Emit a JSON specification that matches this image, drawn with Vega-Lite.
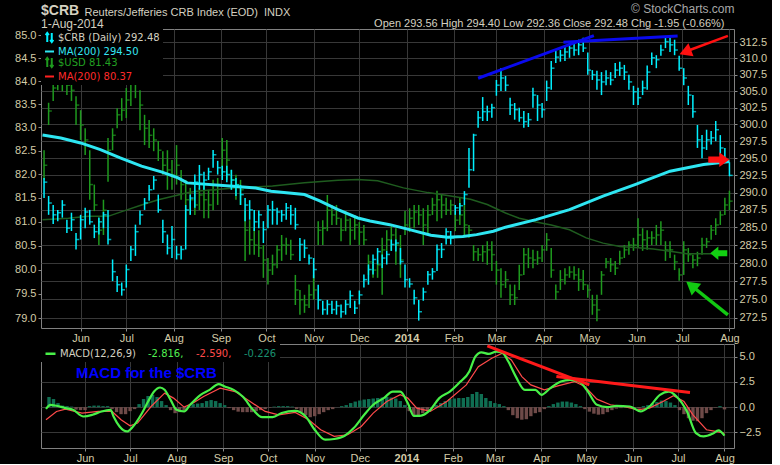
{
"$schema": "https://vega.github.io/schema/vega-lite/v6.json",
"background": "#000000",
"padding": {"left": 14, "top": 1, "right": 4, "bottom": 0},
"spacing": -5,
"config": {
  "view": {"stroke": "#808080", "strokeWidth": 1},
  "axis": {"labelFont": "Liberation Sans", "labelFontSize": 11, "labelColor": "#d4cca8", "tickColor": "#8a8a8a", "tickSize": 3, "labelPadding": 2, "domain": false, "gridColor": "#383838", "gridWidth": 1, "titleFont": "Liberation Sans", "labelFlush": false, "labelOverlap": false}
},
"datasets": {
  "bars": [
{"d":"2013-05-08","ch":292.1,"cl":289.2,"cc":291.5,"uh":82.51,"ul":81.88,"uc":82.19,"hg":1.0},
{"d":"2013-05-11","ch":289.5,"cl":286.8,"cc":288.5,"uh":83.53,"ul":83.05,"uc":83.35,"hg":0.8},
{"d":"2013-05-14","ch":288.2,"cl":285.5,"cc":286.8,"uh":84.02,"ul":83.57,"uc":83.85,"hg":0.4},
{"d":"2013-05-17","ch":287.5,"cl":285.9,"cc":287.1,"uh":84.22,"ul":83.80,"uc":84.02,"hg":0.15},
{"d":"2013-05-20","ch":288.9,"cl":286.4,"cc":288.2,"uh":84.22,"ul":83.78,"uc":84.07,"hg":0.1},
{"d":"2013-05-23","ch":286.1,"cl":284.2,"cc":284.9,"uh":84.13,"ul":83.70,"uc":83.91,"hg":0.05},
{"d":"2013-05-26","ch":287.1,"cl":284.5,"cc":286.1,"uh":84.22,"ul":83.57,"uc":83.80,"hg":-0.25},
{"d":"2013-05-29","ch":284.2,"cl":281.9,"cc":283.3,"uh":83.67,"ul":83.05,"uc":83.48,"hg":-0.3},
{"d":"2013-06-01","ch":286.8,"cl":283.3,"cc":286.1,"uh":83.37,"ul":82.73,"uc":83.05,"hg":-0.3},
{"d":"2013-06-04","ch":287.8,"cl":284.9,"cc":287.2,"uh":82.98,"ul":82.41,"uc":82.73,"hg":0.1},
{"d":"2013-06-07","ch":287.5,"cl":285.4,"cc":285.8,"uh":82.51,"ul":81.46,"uc":81.78,"hg":0.15},
{"d":"2013-06-10","ch":285.4,"cl":283.5,"cc":284.4,"uh":81.78,"ul":81.22,"uc":81.35,"hg":0.15},
{"d":"2013-06-13","ch":286.4,"cl":284.0,"cc":285.8,"uh":81.07,"ul":80.51,"uc":80.82,"hg":0.1},
{"d":"2013-06-16","ch":287.2,"cl":284.9,"cc":286.8,"uh":81.46,"ul":80.72,"uc":81.24,"hg":0.1},
{"d":"2013-06-19","ch":287.5,"cl":282.6,"cc":283.3,"uh":82.77,"ul":81.84,"uc":82.51,"hg":-0.2},
{"d":"2013-06-22","ch":280.5,"cl":277.5,"cc":278.8,"uh":82.98,"ul":82.51,"uc":82.83,"hg":-0.5},
{"d":"2013-06-25","ch":278.2,"cl":276.0,"cc":277.0,"uh":83.41,"ul":82.98,"uc":83.27,"hg":-0.7},
{"d":"2013-06-28","ch":277.3,"cl":275.5,"cc":276.3,"uh":83.63,"ul":83.14,"uc":83.37,"hg":-0.7},
{"d":"2013-07-01","ch":279.8,"cl":276.6,"cc":279.1,"uh":83.85,"ul":83.20,"uc":83.59,"hg":-0.4},
{"d":"2013-07-04","ch":282.4,"cl":280.3,"cc":281.9,"uh":84.85,"ul":83.46,"uc":84.46,"hg":-0.2},
{"d":"2013-07-07","ch":285.4,"cl":281.0,"cc":284.4,"uh":84.85,"ul":83.63,"uc":84.68,"hg":0.3},
{"d":"2013-07-10","ch":287.4,"cl":285.4,"cc":286.8,"uh":83.80,"ul":82.94,"uc":83.48,"hg":0.8},
{"d":"2013-07-13","ch":289.2,"cl":287.5,"cc":288.5,"uh":83.27,"ul":82.62,"uc":82.98,"hg":1.1},
{"d":"2013-07-16","ch":291.1,"cl":288.8,"cc":290.4,"uh":83.16,"ul":82.56,"uc":82.83,"hg":1.2},
{"d":"2013-07-19","ch":292.4,"cl":290.4,"cc":291.8,"uh":82.98,"ul":82.49,"uc":82.73,"hg":1.0},
{"d":"2013-07-22","ch":289.7,"cl":287.1,"cc":287.5,"uh":82.71,"ul":82.28,"uc":82.51,"hg":0.6},
{"d":"2013-07-25","ch":286.1,"cl":282.8,"cc":284.4,"uh":82.49,"ul":81.99,"uc":82.19,"hg":0.2},
{"d":"2013-07-28","ch":284.0,"cl":281.2,"cc":282.1,"uh":82.51,"ul":81.67,"uc":82.09,"hg":-0.3},
{"d":"2013-07-31","ch":285.2,"cl":280.7,"cc":283.3,"uh":82.30,"ul":81.67,"uc":81.99,"hg":-0.6},
{"d":"2013-08-03","ch":282.4,"cl":280.5,"cc":281.2,"uh":82.62,"ul":81.78,"uc":82.19,"hg":-0.5},
{"d":"2013-08-06","ch":282.4,"cl":280.5,"cc":281.9,"uh":82.09,"ul":81.46,"uc":81.78,"hg":-0.3},
{"d":"2013-08-09","ch":288.2,"cl":281.9,"cc":287.5,"uh":81.88,"ul":80.86,"uc":81.46,"hg":0.1},
{"d":"2013-08-12","ch":289.7,"cl":286.8,"cc":289.2,"uh":81.71,"ul":81.14,"uc":81.46,"hg":0.3},
{"d":"2013-08-15","ch":292.6,"cl":287.8,"cc":291.5,"uh":81.67,"ul":81.14,"uc":81.35,"hg":0.35},
{"d":"2013-08-18","ch":294.0,"cl":290.4,"cc":292.6,"uh":81.71,"ul":81.24,"uc":81.56,"hg":0.4},
{"d":"2013-08-21","ch":293.0,"cl":290.4,"cc":291.8,"uh":81.78,"ul":81.07,"uc":81.46,"hg":0.6},
{"d":"2013-08-24","ch":293.6,"cl":291.8,"cc":293.0,"uh":81.67,"ul":81.07,"uc":81.35,"hg":0.7},
{"d":"2013-08-27","ch":296.2,"cl":293.6,"cc":295.5,"uh":81.88,"ul":81.24,"uc":81.67,"hg":0.6},
{"d":"2013-08-30","ch":294.6,"cl":292.6,"cc":293.6,"uh":81.92,"ul":81.35,"uc":81.78,"hg":0.4},
{"d":"2013-09-02","ch":293.9,"cl":291.8,"cc":293.0,"uh":82.77,"ul":81.99,"uc":82.51,"hg":0.2},
{"d":"2013-09-05","ch":293.9,"cl":291.5,"cc":292.6,"uh":82.73,"ul":81.88,"uc":82.30,"hg":-0.1},
{"d":"2013-09-08","ch":293.3,"cl":290.4,"cc":291.8,"uh":82.09,"ul":81.67,"uc":81.88,"hg":-0.3},
{"d":"2013-09-11","ch":292.1,"cl":289.5,"cc":291.1,"uh":81.99,"ul":81.46,"uc":81.78,"hg":-0.45},
{"d":"2013-09-14","ch":291.1,"cl":288.2,"cc":289.7,"uh":81.88,"ul":81.35,"uc":81.67,"hg":-0.5},
{"d":"2013-09-17","ch":289.2,"cl":285.9,"cc":288.2,"uh":81.22,"ul":80.18,"uc":80.82,"hg":-0.5},
{"d":"2013-09-20","ch":288.9,"cl":286.1,"cc":287.5,"uh":81.03,"ul":80.31,"uc":80.62,"hg":-0.5},
{"d":"2013-09-23","ch":287.5,"cl":284.5,"cc":285.8,"uh":80.86,"ul":80.31,"uc":80.51,"hg":-0.4},
{"d":"2013-09-26","ch":287.4,"cl":284.9,"cc":286.8,"uh":80.82,"ul":80.26,"uc":80.45,"hg":-0.3},
{"d":"2013-09-29","ch":285.9,"cl":282.8,"cc":284.7,"uh":80.51,"ul":79.83,"uc":80.20,"hg":-0.2},
{"d":"2013-10-02","ch":288.2,"cl":284.9,"cc":287.5,"uh":80.24,"ul":79.69,"uc":79.99,"hg":-0.05},
{"d":"2013-10-05","ch":288.8,"cl":285.4,"cc":287.5,"uh":80.31,"ul":79.89,"uc":80.10,"hg":0.05},
{"d":"2013-10-08","ch":287.8,"cl":285.4,"cc":287.2,"uh":80.51,"ul":80.03,"uc":80.41,"hg":0.1},
{"d":"2013-10-11","ch":287.5,"cl":285.8,"cc":286.8,"uh":80.72,"ul":80.18,"uc":80.51,"hg":0.1},
{"d":"2013-10-14","ch":288.5,"cl":286.1,"cc":287.8,"uh":80.66,"ul":80.31,"uc":80.51,"hg":0.1},
{"d":"2013-10-17","ch":288.2,"cl":285.4,"cc":286.8,"uh":80.62,"ul":80.20,"uc":80.31,"hg":0.05},
{"d":"2013-10-20","ch":287.8,"cl":284.7,"cc":285.4,"uh":79.89,"ul":79.27,"uc":79.58,"hg":-0.2},
{"d":"2013-10-23","ch":283.5,"cl":280.3,"cc":282.6,"uh":79.58,"ul":79.07,"uc":79.38,"hg":-0.5},
{"d":"2013-10-26","ch":283.3,"cl":280.7,"cc":282.1,"uh":79.48,"ul":79.11,"uc":79.27,"hg":-0.8},
{"d":"2013-10-29","ch":281.2,"cl":279.8,"cc":280.7,"uh":79.69,"ul":79.21,"uc":79.48,"hg":-1.0},
{"d":"2013-11-01","ch":280.7,"cl":277.9,"cc":279.1,"uh":79.89,"ul":79.38,"uc":79.58,"hg":-0.9},
{"d":"2013-11-04","ch":277.0,"cl":273.6,"cc":274.9,"uh":81.01,"ul":80.51,"uc":80.82,"hg":-0.7},
{"d":"2013-11-07","ch":274.8,"cl":272.9,"cc":273.6,"uh":81.03,"ul":80.51,"uc":80.86,"hg":-0.5},
{"d":"2013-11-10","ch":274.9,"cl":272.9,"cc":274.3,"uh":81.56,"ul":80.80,"uc":81.24,"hg":-0.3},
{"d":"2013-11-13","ch":274.8,"cl":273.0,"cc":273.6,"uh":81.35,"ul":80.93,"uc":81.14,"hg":-0.2},
{"d":"2013-11-16","ch":274.8,"cl":272.9,"cc":274.1,"uh":81.35,"ul":80.93,"uc":81.07,"hg":0.0},
{"d":"2013-11-19","ch":274.3,"cl":272.5,"cc":273.3,"uh":81.07,"ul":80.59,"uc":80.82,"hg":0.1},
{"d":"2013-11-22","ch":274.9,"cl":272.9,"cc":274.3,"uh":81.22,"ul":80.80,"uc":81.03,"hg":0.2},
{"d":"2013-11-25","ch":276.2,"cl":273.8,"cc":275.5,"uh":81.07,"ul":80.51,"uc":80.82,"hg":0.4},
{"d":"2013-11-28","ch":274.8,"cl":273.0,"cc":273.8,"uh":81.14,"ul":80.62,"uc":80.93,"hg":0.55},
{"d":"2013-12-01","ch":276.2,"cl":274.3,"cc":275.6,"uh":80.99,"ul":80.51,"uc":80.78,"hg":0.65},
{"d":"2013-12-04","ch":278.4,"cl":276.6,"cc":277.7,"uh":80.93,"ul":80.51,"uc":80.62,"hg":0.75},
{"d":"2013-12-07","ch":279.8,"cl":277.0,"cc":279.1,"uh":80.31,"ul":79.89,"uc":80.16,"hg":0.8},
{"d":"2013-12-10","ch":281.2,"cl":278.4,"cc":280.5,"uh":80.16,"ul":79.83,"uc":79.99,"hg":0.85},
{"d":"2013-12-13","ch":282.1,"cl":279.8,"cc":281.6,"uh":80.20,"ul":79.83,"uc":80.10,"hg":0.9},
{"d":"2013-12-16","ch":281.2,"cl":279.3,"cc":280.7,"uh":80.66,"ul":79.48,"uc":80.41,"hg":0.95},
{"d":"2013-12-19","ch":281.7,"cl":279.8,"cc":281.2,"uh":80.82,"ul":80.39,"uc":80.62,"hg":1.0},
{"d":"2013-12-22","ch":283.3,"cl":281.7,"cc":282.6,"uh":80.93,"ul":80.39,"uc":80.72,"hg":0.95},
{"d":"2013-12-25","ch":283.3,"cl":281.6,"cc":282.8,"uh":80.86,"ul":80.10,"uc":80.51,"hg":0.85},
{"d":"2013-12-28","ch":282.1,"cl":279.8,"cc":280.2,"uh":80.72,"ul":79.83,"uc":80.20,"hg":0.6},
{"d":"2013-12-31","ch":279.8,"cl":276.6,"cc":277.7,"uh":81.22,"ul":80.72,"uc":80.93,"hg":0.2},
{"d":"2014-01-03","ch":277.9,"cl":276.6,"cc":277.1,"uh":81.28,"ul":80.78,"uc":81.07,"hg":-0.4},
{"d":"2014-01-06","ch":276.3,"cl":274.3,"cc":275.2,"uh":81.35,"ul":80.86,"uc":81.20,"hg":-0.8},
{"d":"2014-01-09","ch":274.9,"cl":272.1,"cc":273.3,"uh":81.35,"ul":80.93,"uc":81.14,"hg":-0.85},
{"d":"2014-01-12","ch":276.6,"cl":274.8,"cc":276.0,"uh":81.28,"ul":80.51,"uc":80.93,"hg":-0.6},
{"d":"2014-01-15","ch":278.9,"cl":277.0,"cc":278.4,"uh":81.35,"ul":80.72,"uc":81.14,"hg":-0.3},
{"d":"2014-01-18","ch":279.3,"cl":277.7,"cc":278.8,"uh":81.50,"ul":81.14,"uc":81.35,"hg":0.0},
{"d":"2014-01-21","ch":282.6,"cl":278.9,"cc":281.9,"uh":81.65,"ul":81.01,"uc":81.46,"hg":0.2},
{"d":"2014-01-24","ch":282.8,"cl":280.7,"cc":281.9,"uh":81.56,"ul":81.07,"uc":81.35,"hg":0.4},
{"d":"2014-01-27","ch":284.9,"cl":282.6,"cc":284.4,"uh":81.50,"ul":81.14,"uc":81.24,"hg":0.6},
{"d":"2014-01-30","ch":284.5,"cl":282.6,"cc":283.5,"uh":81.46,"ul":81.14,"uc":81.35,"hg":0.8},
{"d":"2014-02-02","ch":288.2,"cl":286.8,"cc":287.8,"uh":81.22,"ul":80.80,"uc":81.03,"hg":0.85},
{"d":"2014-02-05","ch":288.5,"cl":286.8,"cc":288.1,"uh":81.50,"ul":80.93,"uc":81.14,"hg":0.9},
{"d":"2014-02-08","ch":290.2,"cl":288.2,"cc":289.7,"uh":81.35,"ul":80.72,"uc":80.93,"hg":0.9},
{"d":"2014-02-11","ch":296.5,"cl":290.7,"cc":293.3,"uh":80.93,"ul":80.66,"uc":80.82,"hg":1.0},
{"d":"2014-02-14","ch":298.6,"cl":293.1,"cc":298.4,"uh":80.51,"ul":80.18,"uc":80.37,"hg":1.3},
{"d":"2014-02-17","ch":302.0,"cl":299.5,"cc":301.0,"uh":80.45,"ul":80.18,"uc":80.31,"hg":1.5},
{"d":"2014-02-20","ch":304.1,"cl":300.5,"cc":301.9,"uh":80.51,"ul":80.16,"uc":80.37,"hg":1.3},
{"d":"2014-02-23","ch":302.8,"cl":300.5,"cc":301.9,"uh":80.59,"ul":80.10,"uc":80.41,"hg":0.9},
{"d":"2014-02-26","ch":303.1,"cl":301.0,"cc":302.5,"uh":80.59,"ul":79.97,"uc":80.31,"hg":0.6},
{"d":"2014-03-01","ch":306.7,"cl":304.3,"cc":305.9,"uh":80.18,"ul":79.69,"uc":79.99,"hg":0.4},
{"d":"2014-03-04","ch":308.5,"cl":305.0,"cc":307.0,"uh":80.03,"ul":79.42,"uc":79.69,"hg":0.3},
{"d":"2014-03-07","ch":307.3,"cl":305.0,"cc":305.9,"uh":79.97,"ul":79.62,"uc":79.79,"hg":0.1},
{"d":"2014-03-10","ch":304.0,"cl":301.4,"cc":302.9,"uh":79.69,"ul":79.27,"uc":79.48,"hg":-0.3},
{"d":"2014-03-13","ch":303.2,"cl":300.7,"cc":302.2,"uh":79.69,"ul":79.27,"uc":79.42,"hg":-0.8},
{"d":"2014-03-16","ch":302.5,"cl":300.4,"cc":301.0,"uh":80.10,"ul":79.58,"uc":79.89,"hg":-1.1},
{"d":"2014-03-19","ch":302.0,"cl":299.5,"cc":300.4,"uh":80.45,"ul":79.89,"uc":80.31,"hg":-1.25},
{"d":"2014-03-22","ch":301.7,"cl":299.6,"cc":300.7,"uh":80.45,"ul":80.03,"uc":80.24,"hg":-1.2},
{"d":"2014-03-25","ch":305.5,"cl":302.5,"cc":304.4,"uh":80.41,"ul":80.03,"uc":80.20,"hg":-0.9},
{"d":"2014-03-28","ch":304.4,"cl":300.5,"cc":302.9,"uh":80.39,"ul":80.10,"uc":80.24,"hg":-0.6},
{"d":"2014-03-31","ch":303.2,"cl":301.0,"cc":302.2,"uh":80.51,"ul":80.16,"uc":80.41,"hg":-0.5},
{"d":"2014-04-03","ch":306.6,"cl":303.5,"cc":305.5,"uh":80.76,"ul":80.39,"uc":80.62,"hg":-0.2},
{"d":"2014-04-06","ch":309.6,"cl":305.2,"cc":308.5,"uh":80.45,"ul":79.83,"uc":79.99,"hg":0.1},
{"d":"2014-04-09","ch":311.2,"cl":309.3,"cc":310.2,"uh":79.69,"ul":79.38,"uc":79.54,"hg":0.3},
{"d":"2014-04-12","ch":311.3,"cl":309.5,"cc":310.5,"uh":79.99,"ul":79.58,"uc":79.79,"hg":0.45},
{"d":"2014-04-15","ch":311.9,"cl":309.6,"cc":311.0,"uh":80.03,"ul":79.69,"uc":79.89,"hg":0.55},
{"d":"2014-04-18","ch":312.4,"cl":310.1,"cc":311.6,"uh":80.07,"ul":79.83,"uc":79.95,"hg":0.55},
{"d":"2014-04-21","ch":312.6,"cl":310.4,"cc":311.3,"uh":80.07,"ul":79.79,"uc":79.89,"hg":0.45},
{"d":"2014-04-24","ch":312.9,"cl":310.5,"cc":312.1,"uh":80.03,"ul":79.56,"uc":79.79,"hg":0.3},
{"d":"2014-04-27","ch":313.2,"cl":311.0,"cc":311.6,"uh":79.99,"ul":79.58,"uc":79.69,"hg":0.1},
{"d":"2014-04-30","ch":310.9,"cl":307.5,"cc":308.2,"uh":79.69,"ul":79.42,"uc":79.58,"hg":-0.2},
{"d":"2014-05-03","ch":308.2,"cl":306.7,"cc":307.5,"uh":79.48,"ul":79.07,"uc":79.27,"hg":-0.45},
{"d":"2014-05-06","ch":308.1,"cl":305.2,"cc":306.7,"uh":79.48,"ul":78.94,"uc":79.17,"hg":-0.65},
{"d":"2014-05-09","ch":307.9,"cl":304.4,"cc":306.4,"uh":79.97,"ul":79.48,"uc":79.89,"hg":-0.75},
{"d":"2014-05-12","ch":308.2,"cl":305.9,"cc":307.0,"uh":80.24,"ul":80.03,"uc":80.16,"hg":-0.7},
{"d":"2014-05-15","ch":307.9,"cl":305.9,"cc":306.7,"uh":80.24,"ul":79.95,"uc":80.10,"hg":-0.5},
{"d":"2014-05-18","ch":309.3,"cl":307.0,"cc":308.2,"uh":80.18,"ul":79.89,"uc":80.03,"hg":-0.3},
{"d":"2014-05-21","ch":309.5,"cl":307.3,"cc":308.5,"uh":80.39,"ul":80.10,"uc":80.24,"hg":-0.15},
{"d":"2014-05-24","ch":309.0,"cl":306.7,"cc":307.9,"uh":80.51,"ul":80.24,"uc":80.41,"hg":-0.1},
{"d":"2014-05-27","ch":307.5,"cl":305.2,"cc":306.4,"uh":80.59,"ul":80.31,"uc":80.51,"hg":-0.05},
{"d":"2014-05-30","ch":305.8,"cl":302.9,"cc":304.9,"uh":80.66,"ul":80.39,"uc":80.51,"hg":-0.1},
{"d":"2014-06-02","ch":305.5,"cl":302.9,"cc":304.0,"uh":81.07,"ul":80.45,"uc":80.72,"hg":-0.2},
{"d":"2014-06-05","ch":306.6,"cl":304.4,"cc":305.5,"uh":80.86,"ul":80.39,"uc":80.62,"hg":-0.15},
{"d":"2014-06-08","ch":308.9,"cl":305.2,"cc":307.9,"uh":80.82,"ul":80.41,"uc":80.66,"hg":0.1},
{"d":"2014-06-11","ch":310.9,"cl":309.0,"cc":310.1,"uh":80.80,"ul":80.51,"uc":80.66,"hg":0.2},
{"d":"2014-06-14","ch":310.5,"cl":308.5,"cc":309.8,"uh":80.93,"ul":80.51,"uc":80.72,"hg":0.35},
{"d":"2014-06-17","ch":312.1,"cl":310.4,"cc":311.3,"uh":81.01,"ul":80.51,"uc":80.82,"hg":0.5},
{"d":"2014-06-20","ch":313.2,"cl":311.6,"cc":312.6,"uh":80.59,"ul":80.18,"uc":80.41,"hg":0.65},
{"d":"2014-06-23","ch":313.2,"cl":311.0,"cc":312.1,"uh":80.59,"ul":80.24,"uc":80.41,"hg":0.6},
{"d":"2014-06-26","ch":312.9,"cl":310.5,"cc":311.3,"uh":80.31,"ul":79.99,"uc":80.16,"hg":0.45},
{"d":"2014-06-29","ch":310.4,"cl":308.1,"cc":308.5,"uh":80.03,"ul":79.77,"uc":79.89,"hg":0.2},
{"d":"2014-07-02","ch":308.5,"cl":305.9,"cc":307.0,"uh":80.59,"ul":79.89,"uc":80.41,"hg":-0.3},
{"d":"2014-07-05","ch":305.8,"cl":302.9,"cc":304.4,"uh":80.45,"ul":80.16,"uc":80.31,"hg":-0.7},
{"d":"2014-07-08","ch":304.4,"cl":301.0,"cc":301.9,"uh":80.31,"ul":80.03,"uc":80.20,"hg":-1.1},
{"d":"2014-07-11","ch":299.9,"cl":296.5,"cc":297.7,"uh":80.37,"ul":80.07,"uc":80.24,"hg":-1.35},
{"d":"2014-07-14","ch":298.4,"cl":295.0,"cc":296.5,"uh":80.66,"ul":80.31,"uc":80.51,"hg":-1.4},
{"d":"2014-07-17","ch":299.2,"cl":296.2,"cc":297.7,"uh":80.66,"ul":80.45,"uc":80.58,"hg":-1.1},
{"d":"2014-07-20","ch":299.0,"cl":297.0,"cc":298.0,"uh":80.93,"ul":80.62,"uc":80.82,"hg":-0.6},
{"d":"2014-07-23","ch":300.5,"cl":297.5,"cc":299.2,"uh":81.07,"ul":80.72,"uc":80.93,"hg":-0.3},
{"d":"2014-07-26","ch":298.4,"cl":295.5,"cc":296.5,"uh":81.22,"ul":80.93,"uc":81.14,"hg":-0.05},
{"d":"2014-07-29","ch":296.5,"cl":294.3,"cc":294.4,"uh":81.50,"ul":81.14,"uc":81.35,"hg":0.1},
{"d":"2014-08-01","ch":294.4,"cl":292.36,"cc":292.48,"uh":81.65,"ul":81.24,"uc":81.43,"hg":-0.23}
  ],
  "crbma": [
{"d":"2013-05-07","v":298.4},{"d":"2013-05-19","v":297.98},{"d":"2013-06-01","v":297.24},{"d":"2013-06-14","v":296.25},
{"d":"2013-06-27","v":295.03},{"d":"2013-07-11","v":293.82},{"d":"2013-07-24","v":292.99},{"d":"2013-08-04","v":292.11},
{"d":"2013-08-10","v":291.39},{"d":"2013-09-07","v":290.95},{"d":"2013-09-24","v":290.66},{"d":"2013-10-04","v":290.19},
{"d":"2013-10-26","v":289.7},{"d":"2013-11-05","v":288.79},{"d":"2013-11-17","v":287.54},{"d":"2013-11-30","v":286.35},
{"d":"2013-12-08","v":285.93},{"d":"2013-12-21","v":285.4},{"d":"2014-01-03","v":284.69},{"d":"2014-01-17","v":283.91},
{"d":"2014-01-28","v":283.63},{"d":"2014-02-07","v":283.71},{"d":"2014-02-16","v":283.99},{"d":"2014-02-27","v":284.47},
{"d":"2014-03-07","v":285.04},{"d":"2014-03-27","v":286.11},{"d":"2014-04-18","v":287.54},{"d":"2014-05-10","v":289.47},
{"d":"2014-05-31","v":291.14},{"d":"2014-06-08","v":291.82},{"d":"2014-06-23","v":293.09},{"d":"2014-07-15","v":294.06},
{"d":"2014-08-01","v":294.5}
  ],
  "usdma": [
{"d":"2013-05-07","v":81.04},{"d":"2013-05-24","v":81.07},{"d":"2013-06-06","v":81.11},{"d":"2013-06-19","v":81.11},
{"d":"2013-06-29","v":81.22},{"d":"2013-07-11","v":81.35},{"d":"2013-07-22","v":81.46},{"d":"2013-08-04","v":81.56},
{"d":"2013-08-10","v":81.61},{"d":"2013-08-19","v":81.65},{"d":"2013-09-10","v":81.71},{"d":"2013-10-05","v":81.75},
{"d":"2013-10-26","v":81.82},{"d":"2013-11-17","v":81.87},{"d":"2013-11-30","v":81.89},{"d":"2013-12-13","v":81.86},
{"d":"2013-12-30","v":81.71},{"d":"2014-01-15","v":81.61},{"d":"2014-01-30","v":81.54},{"d":"2014-02-12","v":81.47},
{"d":"2014-02-23","v":81.36},{"d":"2014-03-07","v":81.18},{"d":"2014-03-16","v":81.07},{"d":"2014-03-27","v":80.99},
{"d":"2014-04-06","v":80.93},{"d":"2014-04-18","v":80.83},{"d":"2014-04-29","v":80.66},{"d":"2014-05-10","v":80.55},
{"d":"2014-05-21","v":80.48},{"d":"2014-05-31","v":80.46},{"d":"2014-06-12","v":80.43},{"d":"2014-06-23","v":80.38},
{"d":"2014-07-04","v":80.33},{"d":"2014-07-15","v":80.33},{"d":"2014-07-22","v":80.33}
  ],
  "macd": [
{"d":"2013-05-06","v":-0.17},{"d":"2013-05-09","v":0.23},{"d":"2013-05-13","v":0.13},{"d":"2013-05-19","v":-0.1},
{"d":"2013-05-24","v":-0.27},{"d":"2013-05-31","v":-0.93},{"d":"2013-06-06","v":-0.76},{"d":"2013-06-12","v":-0.43},
{"d":"2013-06-18","v":-0.27},{"d":"2013-06-20","v":-0.93},{"d":"2013-06-24","v":-1.92},{"d":"2013-06-29","v":-2.41},
{"d":"2013-07-03","v":-1.92},{"d":"2013-07-09","v":-0.59},{"d":"2013-07-13","v":0.55},{"d":"2013-07-17","v":1.54},
{"d":"2013-07-21","v":1.94},{"d":"2013-07-24","v":1.71},{"d":"2013-07-28","v":0.72},{"d":"2013-08-01","v":-0.27},
{"d":"2013-08-06","v":-0.43},{"d":"2013-08-10","v":0.23},{"d":"2013-08-17","v":1.22},{"d":"2013-08-23","v":1.71},
{"d":"2013-08-29","v":2.27},{"d":"2013-09-02","v":2.04},{"d":"2013-09-08","v":1.71},{"d":"2013-09-14","v":1.05},
{"d":"2013-09-21","v":-0.27},{"d":"2013-09-27","v":-0.99},{"d":"2013-10-04","v":-0.99},{"d":"2013-10-10","v":-0.59},
{"d":"2013-10-19","v":-0.37},{"d":"2013-10-26","v":-0.93},{"d":"2013-11-01","v":-2.24},{"d":"2013-11-08","v":-3.23},
{"d":"2013-11-14","v":-3.16},{"d":"2013-11-21","v":-2.84},{"d":"2013-11-27","v":-2.08},{"d":"2013-12-04","v":-0.76},
{"d":"2013-12-10","v":0.23},{"d":"2013-12-17","v":0.89},{"d":"2013-12-23","v":1.54},{"d":"2013-12-28","v":1.54},
{"d":"2014-01-02","v":0.4},{"d":"2014-01-06","v":-0.86},{"d":"2014-01-10","v":-0.86},{"d":"2014-01-17","v":-0.27},
{"d":"2014-01-23","v":0.89},{"d":"2014-01-30","v":1.54},{"d":"2014-02-05","v":2.37},{"d":"2014-02-12","v":3.52},
{"d":"2014-02-16","v":5.0},{"d":"2014-02-20","v":5.43},{"d":"2014-02-25","v":5.27},{"d":"2014-03-02","v":5.49},
{"d":"2014-03-06","v":5.4},{"d":"2014-03-10","v":4.51},{"d":"2014-03-15","v":3.02},{"d":"2014-03-21","v":1.71},
{"d":"2014-03-28","v":1.71},{"d":"2014-04-01","v":1.22},{"d":"2014-04-07","v":1.88},{"d":"2014-04-14","v":2.53},
{"d":"2014-04-20","v":2.7},{"d":"2014-04-26","v":2.53},{"d":"2014-05-02","v":1.54},{"d":"2014-05-08","v":0.23},
{"d":"2014-05-15","v":0.0},{"d":"2014-05-21","v":0.13},{"d":"2014-05-30","v":0.06},{"d":"2014-06-06","v":-0.43},
{"d":"2014-06-12","v":0.06},{"d":"2014-06-19","v":1.22},{"d":"2014-06-25","v":1.54},{"d":"2014-06-30","v":1.05},
{"d":"2014-07-07","v":-0.43},{"d":"2014-07-13","v":-2.57},{"d":"2014-07-18","v":-2.9},{"d":"2014-07-24","v":-2.64},
{"d":"2014-07-28","v":-2.31},{"d":"2014-08-01","v":-2.82}
  ],
  "sig": [
{"d":"2013-05-06","v":-1.25},{"d":"2013-05-13","v":-0.43},{"d":"2013-05-19","v":-0.2},{"d":"2013-05-30","v":-0.59},
{"d":"2013-06-10","v":-0.43},{"d":"2013-06-19","v":-0.43},{"d":"2013-06-25","v":-1.25},{"d":"2013-07-01","v":-1.85},
{"d":"2013-07-06","v":-1.58},{"d":"2013-07-15","v":0.06},{"d":"2013-07-24","v":1.38},{"d":"2013-07-30","v":0.89},
{"d":"2013-08-06","v":0.0},{"d":"2013-08-12","v":0.4},{"d":"2013-08-19","v":1.05},{"d":"2013-08-30","v":1.88},
{"d":"2013-09-09","v":1.54},{"d":"2013-09-19","v":0.55},{"d":"2013-09-29","v":-0.43},{"d":"2013-10-08","v":-0.76},
{"d":"2013-10-19","v":-0.53},{"d":"2013-10-28","v":-1.25},{"d":"2013-11-05","v":-2.24},{"d":"2013-11-14","v":-2.9},
{"d":"2013-11-23","v":-2.74},{"d":"2013-12-02","v":-1.92},{"d":"2013-12-10","v":-0.59},{"d":"2013-12-19","v":0.55},
{"d":"2013-12-28","v":1.22},{"d":"2014-01-02","v":0.89},{"d":"2014-01-08","v":-0.1},{"d":"2014-01-17","v":-0.43},
{"d":"2014-01-28","v":0.55},{"d":"2014-02-10","v":2.2},{"d":"2014-02-18","v":4.01},{"d":"2014-02-27","v":4.84},
{"d":"2014-03-06","v":5.34},{"d":"2014-03-12","v":4.67},{"d":"2014-03-19","v":3.02},{"d":"2014-03-25","v":2.2},
{"d":"2014-04-03","v":1.71},{"d":"2014-04-12","v":2.1},{"d":"2014-04-23","v":2.53},{"d":"2014-04-30","v":2.04},
{"d":"2014-05-08","v":0.79},{"d":"2014-05-17","v":0.23},{"d":"2014-05-26","v":0.06},{"d":"2014-06-04","v":-0.27},
{"d":"2014-06-12","v":-0.1},{"d":"2014-06-21","v":0.55},{"d":"2014-06-28","v":1.12},{"d":"2014-07-05","v":0.55},
{"d":"2014-07-11","v":-0.76},{"d":"2014-07-20","v":-2.24},{"d":"2014-07-26","v":-2.41},{"d":"2014-08-01","v":-2.59}
  ]
},
"vconcat": [
{
  "width": 693,
  "height": 299,
  "title": {"text": "$CRB", "subtitle": "1-Aug-2014", "anchor": "start", "frame": "group", "font": "Liberation Sans", "fontSize": 14, "fontWeight": "bold", "color": "#d4d0c0", "subtitleFont": "Liberation Sans", "subtitleFontSize": 12, "subtitleColor": "#d4d0c0", "subtitlePadding": 1, "offset": -28},
  "encoding": {
    "x": {"field": "d", "type": "temporal",
      "scale": {"domain": [{"year": 2013, "month": 5, "date": 6}, {"year": 2014, "month": 8, "date": 4}], "nice": false},
      "axis": {
        "values": [{"year":2013,"month":6,"date":1},{"year":2013,"month":7,"date":1},{"year":2013,"month":8,"date":1},{"year":2013,"month":9,"date":1},{"year":2013,"month":10,"date":1},{"year":2013,"month":11,"date":1},{"year":2013,"month":12,"date":1},{"year":2014,"month":1,"date":1},{"year":2014,"month":2,"date":1},{"year":2014,"month":3,"date":1},{"year":2014,"month":4,"date":1},{"year":2014,"month":5,"date":1},{"year":2014,"month":6,"date":1},{"year":2014,"month":7,"date":1},{"year":2014,"month":8,"date":1}],
        "labelExpr": "month(datum.value) == 0 ? '2014' : timeFormat(datum.value, '%b')",
        "labelFontWeight": {"condition": {"test": "month(datum.value) == 0", "value": "bold"}, "value": "normal"},
        "grid": true, "labelPadding": 1,
        "title": "Reuters/Jefferies CRB Index (EOD)\u00a0\u00a0INDX",
        "titleX": 43, "titleY": -313, "titleAlign": "left", "titleBaseline": "alphabetic",
        "titleFontSize": 11, "titleFontWeight": "normal", "titleColor": "#d4d0c0"
      }
    }
  },
  "resolve": {"scale": {"y": "independent"}},
  "layer": [
    {
      "data": {"name": "bars"},
      "layer": [
        {"mark": {"type": "rule", "strokeWidth": 1.5},
         "encoding": {
           "y": {"field": "uh", "type": "quantitative",
             "scale": {"type": "log", "domain": [78.8, 85.14], "nice": false, "zero": false},
             "axis": {"orient": "left", "values": [79, 79.5, 80, 80.5, 81, 81.5, 82, 82.5, 83, 83.5, 84, 84.5, 85], "format": ".1f", "grid": false,
               "title": "\u00a9 StockCharts.com", "titleAngle": 0, "titleX": 693, "titleY": -17, "titleAlign": "right", "titleBaseline": "alphabetic",
               "titleColor": "#a8a8a8", "titleFontSize": 12, "titleFontWeight": "normal"}},
           "y2": {"field": "ul"},
           "color": {"datum": "c", "type": "nominal"}
         }},
        {"mark": {"type": "tick", "orient": "horizontal", "size": 3.5, "thickness": 1.5, "xOffset": 1.5},
         "encoding": {
           "y": {"field": "uc", "type": "quantitative", "scale": {"type": "log", "domain": [78.8, 85.14], "nice": false, "zero": false}},
           "color": {"datum": "c", "type": "nominal"}
         }},
        {"data": {"name": "usdma"}, "mark": {"type": "line", "color": "#1f5c1f", "strokeWidth": 1.5},
         "encoding": {"y": {"field": "v", "type": "quantitative", "scale": {"type": "log", "domain": [78.8, 85.14], "nice": false, "zero": false}}}},
        {"data": {"values": [{"d": "2014-07-31", "v": 79.07}, {"d": "2014-07-09", "v": 79.62}]},
         "mark": {"type": "line", "color": "#12c812", "strokeWidth": 3.5},
         "encoding": {"y": {"field": "v", "type": "quantitative", "scale": {"type": "log", "domain": [78.8, 85.14], "nice": false, "zero": false}}}},
        {"data": {"values": [{"d": "2014-07-07", "v": 79.67}]},
         "mark": {"type": "point", "shape": "triangle-up", "angle": 309, "size": 230, "filled": true, "opacity": 1, "color": "#12c812"},
         "encoding": {"y": {"field": "v", "type": "quantitative", "scale": {"type": "log", "domain": [78.8, 85.14], "nice": false, "zero": false}}}},
        {"data": {"values": [{"d": "2014-07-25", "v": 80.34}]},
         "mark": {"type": "point", "shape": "M1,-0.35L-0.05,-0.35L-0.05,-0.8L-1,0L-0.05,0.8L-0.05,0.35L1,0.35Z", "size": 289, "filled": true, "opacity": 1, "color": "#12d012"},
         "encoding": {"y": {"field": "v", "type": "quantitative", "scale": {"type": "log", "domain": [78.8, 85.14], "nice": false, "zero": false}}}}
      ]
    },
    {
      "data": {"name": "bars"},
      "layer": [
        {"data": {"name": "crbma"}, "mark": {"type": "line", "strokeWidth": 3},
         "encoding": {
           "y": {"field": "v", "type": "quantitative", "scale": {"type": "log", "domain": [271.1, 314.57], "nice": false, "zero": false}},
           "color": {"datum": "b", "type": "nominal"}
         }},
        {"mark": {"type": "rule", "strokeWidth": 1.5},
         "encoding": {
           "y": {"field": "ch", "type": "quantitative",
             "scale": {"type": "log", "domain": [271.1, 314.57], "nice": false, "zero": false},
             "axis": {"orient": "right", "values": [272.5, 275, 277.5, 280, 282.5, 285, 287.5, 290, 292.5, 295, 297.5, 300, 302.5, 305, 307.5, 310, 312.5], "format": ".1f", "grid": true,
               "title": "Open 293.56  High 294.40  Low 292.36  Close 292.48  Chg -1.95 (-0.66%)", "titleAngle": 0, "titleX": -10, "titleY": -3, "titleAlign": "right", "titleBaseline": "alphabetic",
               "titleColor": "#d4d0c0", "titleFontSize": 11, "titleFontWeight": "normal"}},
           "y2": {"field": "cl"},
           "color": {"datum": "a", "type": "nominal",
             "scale": {"domain": ["a", "b", "c", "d"], "range": ["#00f0ff", "#2ee6f2", "#1e9a1e", "#ff2020"]},
             "legend": {"title": null, "orient": "top-left", "offset": 0, "padding": 3, "fillColor": "#000000",
               "symbolType": "stroke", "symbolSize": 81, "symbolStrokeWidth": 2, "labelOffset": 3, "rowPadding": -5,
               "labelFont": "DejaVu Sans", "labelFontSize": 10, "labelColor": "#d4d0c0",
               "labelExpr": "datum.value == 'a' ? '$CRB (Daily) 292.48' : datum.value == 'b' ? 'MA(200) 294.50' : datum.value == 'c' ? '$USD 81.43' : 'MA(200) 80.37'",
               "encode": {
                 "labels": {"update": {"fill": {"signal": "datum.value == 'a' ? '#d4d0c0' : datum.value == 'b' ? '#33e6f2' : datum.value == 'c' ? '#22a022' : '#ff2a2a'"}}},
                 "symbols": {"update": {
                   "shape": {"signal": "datum.value == 'a' || datum.value == 'c' ? 'M-0.5,1V-1M-0.85,-0.55L-0.5,-1L-0.15,-0.55M0.5,-1V1M0.15,0.55L0.5,1L0.85,0.55' : 'stroke'"},
                   "stroke": {"signal": "datum.value == 'a' ? '#00f0ff' : datum.value == 'b' ? '#2ee6f2' : datum.value == 'c' ? '#1e9a1e' : '#ff2020'"},
                   "fill": {"value": "transparent"},
                   "strokeWidth": {"value": 2},
                   "opacity": {"value": 1}
                 }}
               }}
           }
         }},
        {"mark": {"type": "tick", "orient": "horizontal", "size": 3.5, "thickness": 1.5, "xOffset": 1.5},
         "encoding": {
           "y": {"field": "cc", "type": "quantitative", "scale": {"type": "log", "domain": [271.1, 314.57], "nice": false, "zero": false}},
           "color": {"datum": "a", "type": "nominal"}
         }},
        {"data": {"values": [{"g": "1", "d": "2014-02-17", "v": 306.96}, {"g": "1", "d": "2014-05-04", "v": 313.53}, {"g": "2", "d": "2014-04-14", "v": 312.51}, {"g": "2", "d": "2014-06-28", "v": 313.48}]},
         "mark": {"type": "line", "color": "#0a0aee", "strokeWidth": 3},
         "encoding": {"y": {"field": "v", "type": "quantitative", "scale": {"type": "log", "domain": [271.1, 314.57], "nice": false, "zero": false}}, "detail": {"field": "g"}}},
        {"data": {"values": [{"d": "2014-07-31", "v": 313.5}, {"d": "2014-07-06", "v": 311.3}]},
         "mark": {"type": "line", "color": "#ff1010", "strokeWidth": 2.5},
         "encoding": {"y": {"field": "v", "type": "quantitative", "scale": {"type": "log", "domain": [271.1, 314.57], "nice": false, "zero": false}}}},
        {"data": {"values": [{"d": "2014-07-03", "v": 311.0}]},
         "mark": {"type": "point", "shape": "triangle-up", "angle": 249, "size": 200, "filled": true, "opacity": 1, "color": "#ff1010"},
         "encoding": {"y": {"field": "v", "type": "quantitative", "scale": {"type": "log", "domain": [271.1, 314.57], "nice": false, "zero": false}}}},
        {"data": {"values": [{"d": "2014-07-25", "v": 294.78}]},
         "mark": {"type": "point", "shape": "M-1,-0.3L0.05,-0.3L0.05,-0.7L1,0L0.05,0.7L0.05,0.3L-1,0.3Z", "size": 441, "filled": true, "opacity": 1, "color": "#ff1010"},
         "encoding": {"y": {"field": "v", "type": "quantitative", "scale": {"type": "log", "domain": [271.1, 314.57], "nice": false, "zero": false}}}}
      ]
    }
  ]
},
{
  "width": 693,
  "height": 104,
  "encoding": {
    "x": {"field": "d", "type": "temporal",
      "scale": {"domain": [{"year": 2013, "month": 5, "date": 6}, {"year": 2014, "month": 8, "date": 4}], "nice": false},
      "axis": {
        "values": [{"year":2013,"month":6,"date":1},{"year":2013,"month":7,"date":1},{"year":2013,"month":8,"date":1},{"year":2013,"month":9,"date":1},{"year":2013,"month":10,"date":1},{"year":2013,"month":11,"date":1},{"year":2013,"month":12,"date":1},{"year":2014,"month":1,"date":1},{"year":2014,"month":2,"date":1},{"year":2014,"month":3,"date":1},{"year":2014,"month":4,"date":1},{"year":2014,"month":5,"date":1},{"year":2014,"month":6,"date":1},{"year":2014,"month":7,"date":1},{"year":2014,"month":8,"date":1}],
        "labelExpr": "month(datum.value) == 0 ? '2014' : timeFormat(datum.value, '%b')",
        "labelFontWeight": {"condition": {"test": "month(datum.value) == 0", "value": "bold"}, "value": "normal"},
        "grid": true, "title": null, "labelPadding": 1
      }
    },
    "y": {"field": "v", "type": "quantitative", "scale": {"domain": [-4.05, 6.25], "nice": false, "zero": false},
      "axis": {"orient": "right", "values": [-2.5, 0, 2.5, 5], "labelExpr": "format(datum.value, '.1f')", "grid": true, "title": null, "labelOverlap": false, "labelBound": false}}
  },
  "layer": [
    {"data": {"name": "bars"},
     "mark": {"type": "bar", "size": 3.4},
     "encoding": {
       "y": {"field": "hg", "type": "quantitative"},
       "y2": {"datum": 0},
       "color": {"condition": {"test": "datum.hg >= 0", "value": "#0f6e52"}, "value": "#6e4a48"}
     }},
    {"data": {"name": "sig"}, "mark": {"type": "line", "color": "#ff4a4a", "strokeWidth": 1.2}},
    {"data": {"name": "macd"}, "mark": {"type": "line", "strokeWidth": 2.2, "interpolate": "monotone"},
     "encoding": {
       "color": {"datum": "m", "type": "nominal",
         "scale": {"domain": ["m", "v1", "v2", "v3"], "range": ["#48f048", "#000000", "#000000", "#000000"]},
         "legend": {"title": null, "orient": "top-left", "offset": 0, "padding": 3, "fillColor": "#000000", "direction": "horizontal", "columns": 4, "columnPadding": 4,
           "symbolType": "stroke", "symbolSize": 100, "symbolStrokeWidth": 2.5, "labelOffset": 3,
           "labelFont": "DejaVu Sans", "labelFontSize": 10,
           "labelExpr": "datum.value == 'm' ? 'MACD(12,26,9)' : datum.value == 'v1' ? '-2.816,' : datum.value == 'v2' ? '-2.590,' : '-0.226'",
           "encode": {
             "labels": {"update": {
               "fill": {"signal": "datum.value == 'm' ? '#d4d0c0' : datum.value == 'v1' ? '#50f050' : datum.value == 'v2' ? '#ff4a4a' : '#1a9070'"},
               "dx": {"signal": "datum.value == 'm' ? 0 : -12"}
             }},
             "symbols": {"update": {"stroke": {"signal": "datum.value == 'm' ? '#48f048' : 'transparent'"}, "opacity": {"value": 1}}}
           }}
       }
     }},
    {"data": {"values": [{"g": "1", "d": "2014-02-24", "v": 6.06}, {"g": "1", "d": "2014-05-03", "v": 2.2}, {"g": "2", "d": "2014-04-11", "v": 3.02}, {"g": "2", "d": "2014-07-09", "v": 1.44}]},
     "mark": {"type": "line", "color": "#ff1a1a", "strokeWidth": 3},
     "encoding": {"detail": {"field": "g"}}},
    {"data": {"values": [{"d": "2013-05-26", "v": 2.9, "t": "MACD for the $CRB"}]},
     "mark": {"type": "text", "align": "left", "baseline": "alphabetic", "font": "Liberation Sans", "fontSize": 15, "fontWeight": "bold", "color": "#0000ff"},
     "encoding": {"text": {"field": "t"}}}
  ]
}
],
"resolve": {"scale": {"color": "independent"}, "legend": {"color": "independent"}}
}
